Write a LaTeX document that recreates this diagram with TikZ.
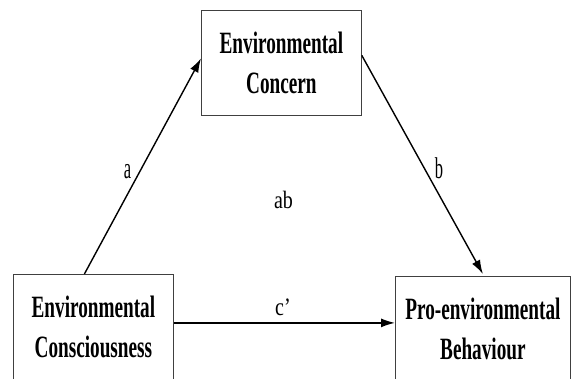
\documentclass[tikz,border=0pt]{standalone}
\usepackage{fontspec}
\usetikzlibrary{arrows.meta}
\newfontfamily\boxfont{Liberation Serif}[FakeStretch=0.62]
\newfontfamily\pathfont{Liberation Serif}[FakeStretch=0.55]
\newfontfamily\lblfont{Liberation Serif}[FakeStretch=0.8]

\tikzset{
  varbox/.style  = {shape=rectangle, draw=black!75, line width=0.8pt,
                    align=center, anchor=north west,
                    minimum height=105pt, inner sep=0pt,
                    font=\boxfont\bfseries\fontsize{31}{40}\selectfont},
  path/.style    = {draw, line width=1.4pt, -{Latex[length=14pt,width=9pt]}},
  lbl/.style     = {anchor=base, inner sep=0pt,
                    font=\lblfont\fontsize{25}{28}\selectfont},
  pathlbl/.style = {lbl, font=\pathfont\fontsize{30}{32}\selectfont}
}

\begin{document}
\begin{tikzpicture}[x=1pt, y=-1pt]
\useasboundingbox (0,0) rectangle (575,379);
% variables
\node[varbox, minimum width=160pt] (conc) at (201,10) {Environmental\\Concern};
\node[varbox, minimum width=160pt] (cons) at (13,274) {Environmental\\Consciousness};
\node[varbox, minimum width=175pt] (pbe)  at (395,276) {Pro-environmental\\Behaviour};
% paths
\draw[path] ([xshift=-9pt]cons.north) -- ([yshift=4.5pt]conc.west);
\draw[path] ([yshift=7.5pt]conc.east) -- ([yshift=2pt]pbe.north);
\draw[path] ([yshift=4pt]cons.east) -- ([yshift=4pt]cons.east -| pbe.west);
% labels
\node[pathlbl] (la)  at (127.5,179) {a};
\node[pathlbl] (lb)  at (439,179) {b};
\node[lbl]     (lab) at (283.5,209) {ab};
\node[lbl]     (lc)  at (283,315) {c’};
\end{tikzpicture}
\end{document}
